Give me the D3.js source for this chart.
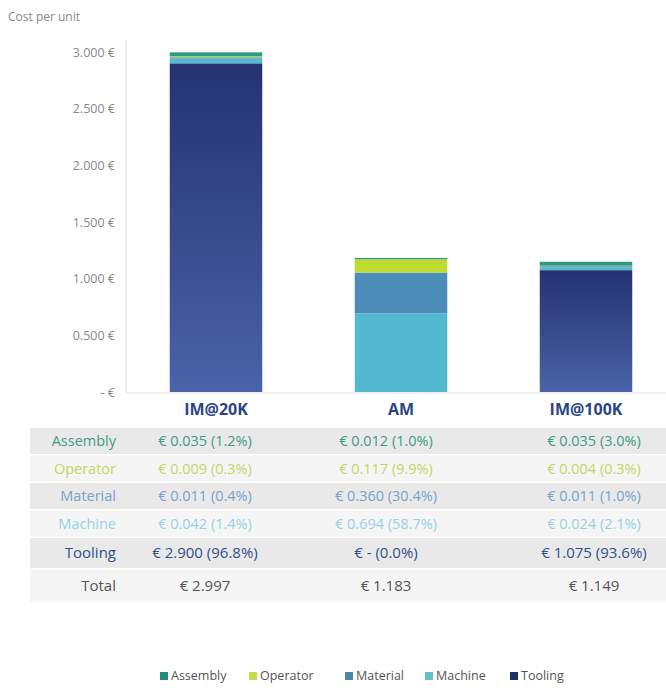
<!DOCTYPE html>
<html>
<head>
<meta charset="utf-8">
<script src="https://cdn.jsdelivr.net/npm/d3@7"></script>
<style>
  body { margin: 0; background: #fff; }
  svg { font-family: "Open Sans", "Noto Sans", sans-serif; }
</style>
</head>
<body>
<div id="chart"></div>
<script>
// data
const categories = ["IM@20K", "AM", "IM@100K"];
const components = ["Assembly", "Operator", "Material", "Machine", "Tooling"];
const assembly = [0.035, 0.012, 0.035];
const operator = [0.009, 0.117, 0.004];
const material = [0.011, 0.360, 0.011];
const machine  = [0.042, 0.694, 0.024];
const tooling  = [2.900, 0.000, 1.075];
const totals   = [2.997, 1.183, 1.149];
const yTicks   = [0, 0.5, 1, 1.5, 2, 2.5, 3];

const series = { Assembly: assembly, Operator: operator, Material: material, Machine: machine, Tooling: tooling };
const fillColour = { Assembly: "#2e9a80", Operator: "#bfdb2e", Material: "#4b8db8", Machine: "#52b9d0", Tooling: "url(#toolGrad)" };
const legendColour = { Assembly: "#1f8a78", Operator: "#c4dc48", Material: "#4a86ae", Machine: "#5cc0c9", Tooling: "#1f2f68" };
const textColour = { Assembly: "#3f9c88", Operator: "#c6d664", Material: "#7aa2c8", Machine: "#96d2e2", Tooling: "#30508c", Total: "#555" };

const W = 666, H = 690;
const svg = d3.select("#chart").append("svg").attr("width", W).attr("height", H);

const defs = svg.append("defs");
const grad = defs.append("linearGradient").attr("id", "toolGrad")
  .attr("x1", 0).attr("y1", 0).attr("x2", 0).attr("y2", 1);
grad.append("stop").attr("offset", "0%").attr("stop-color", "#243270");
grad.append("stop").attr("offset", "100%").attr("stop-color", "#4a63a8");

// scales
const x = d3.scaleBand().domain(categories).range([123.5, 678.5]).paddingInner(0.5).paddingOuter(0.25);
const y = d3.scaleLinear().domain([0, 3]).range([392, 52]);

// title
svg.append("text").attr("x", 8).attr("y", 21).attr("fill", "#888").attr("font-size", 12).text("Cost per unit");

// y axis
const yAxis = svg.append("g").attr("transform", "translate(126,0)")
  .call(d3.axisLeft(y).tickValues(yTicks).tickSize(0).tickPadding(11)
    .tickFormat(d => d === 0 ? "- €" : d3.format(".3f")(d) + " €"));
yAxis.select(".domain").remove();
yAxis.selectAll("text").attr("fill", "#888").attr("font-size", 12.5).attr("font-family", "Open Sans, sans-serif");
svg.append("line").attr("x1", 126).attr("x2", 126).attr("y1", 40).attr("y2", 393).attr("stroke", "#e2e2e2");
svg.append("line").attr("x1", 126).attr("x2", 666).attr("y1", 393).attr("y2", 393).attr("stroke", "#e2e2e2");

// stacked bars
const table = categories.map((c, i) => {
  const row = { cat: c };
  components.forEach(k => row[k] = series[k][i]);
  return row;
});
const stack = d3.stack().keys(components.slice().reverse());
svg.append("g").selectAll("g")
  .data(stack(table))
  .join("g")
  .attr("fill", d => fillColour[d.key])
  .selectAll("rect")
  .data(d => d)
  .join("rect")
  .attr("x", d => x(d.data.cat))
  .attr("width", x.bandwidth())
  .attr("y", d => y(d[1]))
  .attr("height", d => Math.max(0, y(d[0]) - y(d[1])));

// category labels
svg.append("g").selectAll("text")
  .data(categories)
  .join("text")
  .attr("x", d => x(d) + x.bandwidth() / 2)
  .attr("y", 415)
  .attr("text-anchor", "middle")
  .attr("font-size", 16)
  .attr("font-weight", "bold")
  .attr("fill", "#2b4684")
  .text(d => d);

// data table
const rows = components.concat(["Total"]);
const rowH = [26, 26, 26, 26, 30, 32];
const rowTop = [];
let yy = 428;
rowH.forEach(h => { rowTop.push(yy); yy += h + 1.5; });
const colX = [205, 386, 594];

const fmtVal = v => v === 0 ? "€ -" : "€ " + d3.format(".3f")(v);
const fmtPct = (v, t) => "(" + d3.format(".1f")(v / t * 100) + "%)";

rows.forEach((r, i) => {
  svg.append("rect").attr("x", 30).attr("y", rowTop[i]).attr("width", W - 30).attr("height", rowH[i])
    .attr("fill", i % 2 === 0 ? "#e9e9e9" : "#f5f5f5");
  const cy = rowTop[i] + rowH[i] / 2 + 5;
  const fs = r === "Total" || r === "Tooling" ? 15 : 14.5;
  svg.append("text").attr("x", 116).attr("y", cy).attr("text-anchor", "end")
    .attr("font-size", fs).attr("fill", textColour[r]).text(r);
  categories.forEach((c, j) => {
    const label = r === "Total" ? "€ " + d3.format(".3f")(totals[j])
      : fmtVal(series[r][j]) + " " + fmtPct(series[r][j], totals[j]);
    svg.append("text").attr("x", colX[j]).attr("y", cy).attr("text-anchor", "middle")
      .attr("font-size", fs).attr("fill", textColour[r]).text(label);
  });
});

// legend
const legX = [160, 249, 345, 425, 510];
const leg = svg.append("g").selectAll("g")
  .data(components)
  .join("g")
  .attr("transform", (d, i) => `translate(${legX[i]},680)`);
leg.append("rect").attr("x", 0).attr("y", -8).attr("width", 8).attr("height", 8).attr("fill", d => legendColour[d]);
leg.append("text").attr("x", 11).attr("y", 0).attr("font-size", 12.5).attr("fill", "#555").text(d => d);
</script>
</body>
</html>
